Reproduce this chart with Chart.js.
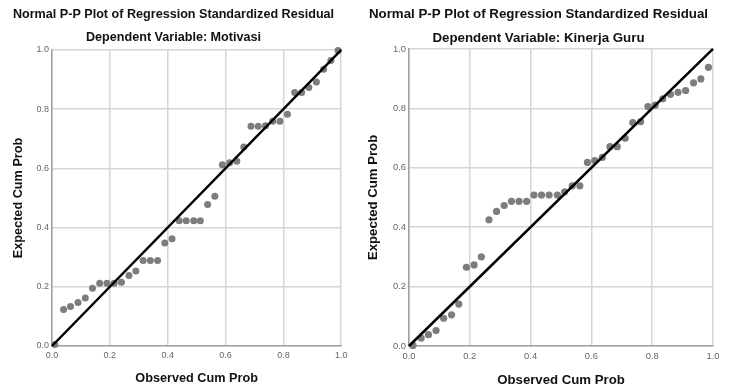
<!DOCTYPE html>
<html>
<head>
<meta charset="utf-8">
<script src="https://cdn.jsdelivr.net/npm/chart.js@4"></script>
<style>
body { margin: 0; background: #fff; width: 733px; height: 390px; position: relative; overflow: hidden; }
canvas { position: absolute; top: 0; }
#c1 { left: 0; }
#c2 { left: 358px; }
</style>
</head>
<body>
<canvas id="c1" width="352" height="390"></canvas>
<canvas id="c2" width="366" height="390"></canvas>
<script>
// Motivasi: observed vs expected cumulative probability
const motivasiObserved = [0.01, 0.04, 0.064, 0.09, 0.115, 0.14, 0.165, 0.19, 0.215, 0.24,
  0.266, 0.29, 0.315, 0.34, 0.365, 0.39, 0.415, 0.44, 0.464, 0.49,
  0.513, 0.538, 0.563, 0.589, 0.614, 0.639, 0.663, 0.688, 0.713, 0.738,
  0.763, 0.788, 0.814, 0.839, 0.863, 0.888, 0.914, 0.939, 0.964, 0.989];
const motivasiExpected = [0.005, 0.123, 0.133, 0.147, 0.162, 0.195, 0.212, 0.212, 0.212, 0.215,
  0.238, 0.253, 0.289, 0.289, 0.289, 0.348, 0.362, 0.423, 0.423, 0.423,
  0.423, 0.478, 0.506, 0.612, 0.619, 0.624, 0.672, 0.742, 0.742, 0.744,
  0.759, 0.759, 0.783, 0.856, 0.856, 0.873, 0.892, 0.935, 0.964, 0.998];

// Kinerja Guru
const kinerjaObserved = [0.013, 0.04, 0.064, 0.089, 0.114, 0.14, 0.164, 0.189, 0.214, 0.238,
  0.263, 0.288, 0.313, 0.337, 0.362, 0.387, 0.411, 0.436, 0.461, 0.488,
  0.512, 0.537, 0.562, 0.587, 0.611, 0.636, 0.661, 0.685, 0.711, 0.736,
  0.762, 0.786, 0.81, 0.835, 0.86, 0.885, 0.91, 0.936, 0.96, 0.985];
const kinerjaExpected = [0.002, 0.027, 0.038, 0.052, 0.093, 0.105, 0.141, 0.265, 0.273, 0.3,
  0.425, 0.453, 0.473, 0.487, 0.487, 0.487, 0.508, 0.508, 0.508, 0.508,
  0.519, 0.539, 0.539, 0.618, 0.624, 0.635, 0.671, 0.671, 0.699, 0.752,
  0.755, 0.806, 0.811, 0.832, 0.847, 0.854, 0.86, 0.886, 0.899, 0.938];

const refLine = [0, 1];
const probTicks = [0, 0.2, 0.4, 0.6, 0.8, 1.0];

const FONT = "'Liberation Sans', Arial, sans-serif";

function makeChart(id, subtitle, obs, exp, s) {
  const points = obs.map((x, i) => ({ x: x, y: exp[i] }));
  const line = refLine.map(v => ({ x: v, y: v }));
  const axis = (title, isX) => ({
    type: 'linear',
    min: 0,
    max: 1,
    afterBuildTicks: sc => { sc.ticks = probTicks.map(v => ({ value: v })); },
    afterFit: sc => { if (isX) sc.height = 44; else sc.width = s.yWidth; },
    grid: { color: '#d6d6d6', lineWidth: 1.5, drawTicks: false },
    border: { color: '#a0a0a0', width: 1.5 },
    ticks: {
      padding: isX ? 4.5 : 3,
      color: '#666',
      font: { family: FONT, size: s.tick },
      callback: v => v.toFixed(1)
    },
    title: {
      display: true,
      text: title,
      color: '#111',
      font: { family: FONT, size: s.axis, weight: 'bold' },
      padding: isX ? { top: 0, bottom: s.xTitlePad } : { top: s.yTitlePad, bottom: 0 }
    }
  });
  return new Chart(document.getElementById(id), {
    type: 'scatter',
    data: {
      datasets: [{
        data: points,
        backgroundColor: '#7d7d7d',
        borderWidth: 0,
        pointRadius: s.radius,
        clip: false,
        order: 2
      }, {
        type: 'line',
        data: line,
        borderColor: '#000',
        borderWidth: 2.5,
        pointRadius: 0,
        clip: false,
        order: 1
      }]
    },
    options: {
      responsive: false,
      animation: false,
      layout: { padding: { left: 0, right: 5, top: 0, bottom: 0 } },
      plugins: {
        legend: { display: false },
        tooltip: { enabled: false },
        title: {
          display: true,
          text: 'Normal P-P Plot of Regression Standardized Residual',
          color: '#111',
          font: { family: FONT, size: s.title, weight: 'bold' },
          padding: { top: s.titleTop, bottom: 4 }
        },
        subtitle: {
          display: true,
          text: subtitle,
          color: '#111',
          font: { family: FONT, size: s.title, weight: 'bold' },
          padding: { top: s.gap - 4, bottom: s.subPad }
        }
      },
      scales: {
        x: axis('Observed Cum Prob', true),
        y: axis('Expected Cum Prob', false)
      }
    }
  });
}

makeChart('c1', 'Dependent Variable: Motivasi', motivasiObserved, motivasiExpected,
  { title: 12.6, axis: 12.7, tick: 9, yWidth: 52, yTitlePad: 10.4, xTitlePad: 3.4,
    radius: 3.5, titleTop: 7.4, gap: 7.4, subPad: 4.9 });
makeChart('c2', 'Dependent Variable: Kinerja Guru', kinerjaObserved, kinerjaExpected,
  { title: 13.3, axis: 13.2, tick: 9.4, yWidth: 51, yTitlePad: 7.8, xTitlePad: 2.1,
    radius: 3.6, titleTop: 6, gap: 8, subPad: 3 });
</script>
</body>
</html>
